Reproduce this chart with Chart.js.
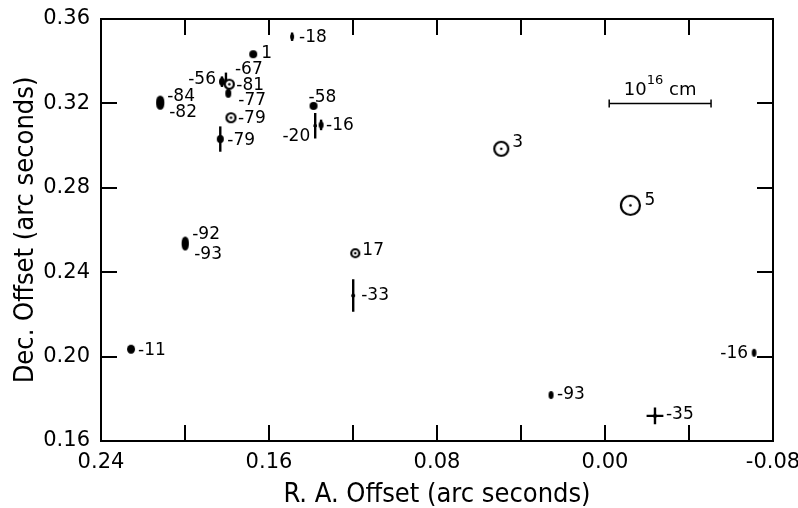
<!DOCTYPE html>
<html>
<head>
<meta charset="utf-8">
<script src="https://cdn.jsdelivr.net/npm/chart.js@4.4.1/dist/chart.umd.min.js"></script>
<style>
  html, body { margin: 0; padding: 0; background: #fff; }
  canvas { display: block; }
</style>
</head>
<body>
<canvas id="chart" width="798" height="508"></canvas>
<script>
// Spot labels (velocity ids written next to each spot)
const ids = ["-18", "1", "-56", "-67", "-81", "-77", "-84", "-82", "-79", "-79", "-58", "-20",
  "-16", "-92", "-93", "17", "-33", "-11", "3", "5", "-16", "-93", "-35"];

// Offsets in arc seconds
const raOffset = [0.149, 0.1675, 0.1824, 0.1805, 0.1789, 0.1794, 0.2118, 0.2118, 0.1781, 0.1832, 0.1388, 0.138,
  0.1352, 0.1999, 0.1999, 0.1189, 0.1199, 0.2257, 0.0494, -0.0121, -0.071, 0.0257, -0.0238];
const decOffset = [0.3516, 0.3433, 0.3303, 0.3311, 0.3291, 0.3248, 0.3211, 0.3196, 0.3132, 0.3031, 0.3188, 0.3094,
  0.3098, 0.2543, 0.2529, 0.249, 0.2289, 0.2035, 0.2985, 0.2717, 0.2018, 0.1818, 0.1719];

// Error bars (half length, arc seconds)
const raErr = [0, 0, 0, 0, 0, 0, 0, 0, 0, 0, 0, 0.0008,
  0, 0, 0, 0, 0.0008, 0, 0, 0, 0, 0, 0.004];
const decErr = [0.002, 0, 0.0025, 0.0035, 0, 0, 0, 0, 0, 0.006, 0, 0.006,
  0.0025, 0, 0, 0, 0.0077, 0, 0, 0, 0, 0, 0.004];

// 10^16 cm scale bar
const scaleBarRa = [-0.002, -0.0505];
const scaleBarDec = [0.32, 0.32];

// Tick labels
const xTickLabels = ["0.24", "0.16", "0.08", "0.00", "-0.08"];
const yTickLabels = ["0.16", "0.20", "0.24", "0.28", "0.32", "0.36"];

// Marker look: "ell" = filled ellipse, "ring" = open circle with centre dot
const markerKind = ["ell", "ell", "ell", "ell", "ring", "ell", "ell", "ell", "ring", "ell", "ell", "ell",
  "ell", "ell", "ell", "ring", "ell", "ell", "ring", "ring", "ell", "ell", "ell"];
const markerRx = [2, 4, 3, 1.2, 4.5, 3, 4, 4, 4.5, 3.5, 4, 1.2, 2.5, 3.5, 3.5, 4, 1.8, 4, 7, 9.5, 2.3, 2.5, 2];
const markerRy = [3, 4, 4, 1.2, 4.5, 4.5, 5.5, 5.5, 4.5, 4, 4, 1.2, 3.5, 5.5, 5.5, 4, 1.8, 4.5, 7, 9.5, 4, 4, 2];

// Label placement relative to the spot (px)
const labelDx = [7, 8, -6, 9, 7, 10, 7, 9, 7, 7, -5, -5, 5, 7, 9, 7, 8, 7, 11, 14, -6, 6, 11];
const labelDy = [1, -1, -2, -10, 1, 7, -5, 8, 1, 2, -8, 11, 1, -7, 10, -3, 0, 1, -6, -5, 1, 0, -1];
const labelRight = [2, 11, 20];

const TEXT = "'DejaVu Sans', sans-serif";
const NARROW = "'Liberation Sans Narrow', 'DejaVu Sans Condensed', 'DejaVu Sans', sans-serif";

function makeMarker(kind, rx, ry) {
  const c = document.createElement("canvas");
  c.width = Math.ceil(rx * 2 + 4);
  c.height = Math.ceil(ry * 2 + 4);
  const g = c.getContext("2d");
  const cx = c.width / 2, cy = c.height / 2;
  g.beginPath();
  if (kind === "ring") {
    g.arc(cx, cy, rx, 0, Math.PI * 2);
    g.fillStyle = "#fff";
    g.fill();
    g.lineWidth = 2.2;
    g.strokeStyle = "#000";
    g.stroke();
    g.beginPath();
    g.arc(cx, cy, 1.3, 0, Math.PI * 2);
    g.fillStyle = "#000";
    g.fill();
  } else {
    g.ellipse(cx, cy, rx, ry, 0, 0, Math.PI * 2);
    g.fillStyle = "#000";
    g.fill();
  }
  return c;
}

const markers = markerKind.map((k, i) => makeMarker(k, markerRx[i], markerRy[i]));
const spots = raOffset.map((x, i) => ({ x: x, y: decOffset[i] }));
const bar = scaleBarRa.map((x, i) => ({ x: x, y: scaleBarDec[i] }));

function fmt(v) {
  const s = (Math.round(v * 100) / 100).toFixed(2);
  return s === "-0.00" ? "0.00" : s;
}

// error bars under the spots
const errorBars = {
  id: "errorBars",
  beforeDatasetsDraw(chart) {
    const { ctx, scales: { x, y } } = chart;
    ctx.save();
    ctx.strokeStyle = "#000";
    ctx.lineWidth = 2.4;
    raOffset.forEach((ra, i) => {
      const px = x.getPixelForValue(ra), py = y.getPixelForValue(decOffset[i]);
      ctx.beginPath();
      if (decErr[i] > 0) {
        ctx.moveTo(px, y.getPixelForValue(decOffset[i] - decErr[i]));
        ctx.lineTo(px, y.getPixelForValue(decOffset[i] + decErr[i]));
      }
      if (raErr[i] > 0) {
        ctx.moveTo(x.getPixelForValue(ra - raErr[i]), py);
        ctx.lineTo(x.getPixelForValue(ra + raErr[i]), py);
      }
      ctx.stroke();
    });
    ctx.restore();
  }
};

// ids next to spots, and the scale bar caption
const spotLabels = {
  id: "spotLabels",
  afterDatasetsDraw(chart) {
    const { ctx, scales: { x, y } } = chart;
    ctx.save();
    ctx.fillStyle = "#000";
    ctx.font = "17px " + TEXT;
    ctx.textBaseline = "middle";
    ids.forEach((t, i) => {
      ctx.textAlign = labelRight.includes(i) ? "right" : "left";
      ctx.fillText(t, x.getPixelForValue(raOffset[i]) + labelDx[i], y.getPixelForValue(decOffset[i]) + labelDy[i]);
    });
    const cx = x.getPixelForValue((scaleBarRa[0] + scaleBarRa[1]) / 2);
    const by = y.getPixelForValue(scaleBarDec[0]) - 8;
    ctx.textBaseline = "alphabetic";
    ctx.textAlign = "left";
    ctx.font = "18px " + TEXT;
    const w10 = ctx.measureText("10").width;
    const wcm = ctx.measureText(" cm").width;
    ctx.font = "13px " + TEXT;
    const w16 = ctx.measureText("16").width;
    let sx = cx - (w10 + w16 + wcm) / 2;
    ctx.font = "18px " + TEXT;
    ctx.fillText("10", sx, by);
    ctx.font = "13px " + TEXT;
    ctx.fillText("16", sx + w10, by - 11);
    ctx.font = "18px " + TEXT;
    ctx.fillText(" cm", sx + w10 + w16, by);
    ctx.restore();
  }
};

// box frame with inward ticks on all four sides
const frame = {
  id: "frame",
  afterDraw(chart) {
    const { ctx, chartArea: a, scales: { x, y } } = chart;
    const len = 16;
    ctx.save();
    ctx.strokeStyle = "#000";
    ctx.lineWidth = 2;
    ctx.strokeRect(a.left, a.top, a.right - a.left, a.bottom - a.top);
    ctx.beginPath();
    x.ticks.forEach(t => {
      const px = Math.round(x.getPixelForValue(t.value));
      if (px <= a.left + 2 || px >= a.right - 2) return;
      ctx.moveTo(px, a.bottom); ctx.lineTo(px, a.bottom - len);
      ctx.moveTo(px, a.top); ctx.lineTo(px, a.top + len);
    });
    y.ticks.forEach(t => {
      const py = Math.round(y.getPixelForValue(t.value));
      if (py <= a.top + 2 || py >= a.bottom - 2) return;
      ctx.moveTo(a.left, py); ctx.lineTo(a.left + len, py);
      ctx.moveTo(a.right, py); ctx.lineTo(a.right - len, py);
    });
    ctx.stroke();
    ctx.restore();
  }
};

const whiteBg = {
  id: "whiteBg",
  beforeDraw(chart) {
    const { ctx } = chart;
    ctx.save();
    ctx.fillStyle = "#fff";
    ctx.fillRect(0, 0, chart.width, chart.height);
    ctx.restore();
  }
};

new Chart(document.getElementById("chart"), {
  type: "scatter",
  data: {
    datasets: [
      {
        data: spots,
        pointStyle: markers,
        pointRadius: 4,
        borderWidth: 0
      },
      {
        type: "line",
        data: bar,
        showLine: true,
        borderColor: "#000",
        borderWidth: 1.5,
        pointStyle: "line",
        rotation: 90,
        pointRadius: 4,
        pointBorderColor: "#000",
        pointBorderWidth: 1.5
      }
    ]
  },
  options: {
    responsive: false,
    animation: false,
    devicePixelRatio: 1,
    layout: { padding: { top: 19, right: 25, left: 0, bottom: 0 } },
    plugins: { legend: { display: false }, tooltip: { enabled: false } },
    scales: {
      x: {
        type: "linear",
        min: -0.08,
        max: 0.24,
        reverse: true,
        afterFit(s) { s.height = 67; s.paddingLeft = 0; s.paddingRight = 0; },
        grid: { display: false, drawTicks: false },
        border: { display: false },
        ticks: {
          stepSize: 0.04,
          autoSkip: false,
          maxRotation: 0,
          padding: 9,
          color: "#000",
          font: { size: 21, family: TEXT },
          callback(v) { const s = fmt(v); return xTickLabels.includes(s) ? s : ""; }
        },
        title: {
          display: true,
          text: "R. A. Offset (arc seconds)",
          color: "#000",
          font: { size: 27, family: NARROW, lineHeight: 1 },
          padding: { top: 0, bottom: 0 }
        }
      },
      y: {
        type: "linear",
        min: 0.16,
        max: 0.36,
        afterFit(s) { s.width = 101; s.paddingTop = 0; s.paddingBottom = 0; },
        grid: { display: false, drawTicks: false },
        border: { display: false },
        ticks: {
          stepSize: 0.04,
          padding: 11,
          color: "#000",
          font: { size: 21, family: TEXT },
          callback(v) { const s = fmt(v); return yTickLabels.includes(s) ? s : ""; }
        },
        title: {
          display: true,
          text: "Dec. Offset (arc seconds)",
          color: "#000",
          font: { size: 27, family: NARROW, lineHeight: 1 },
          padding: { top: 12, bottom: 0 }
        }
      }
    }
  },
  plugins: [whiteBg, errorBars, spotLabels, frame]
});
</script>
</body>
</html>
